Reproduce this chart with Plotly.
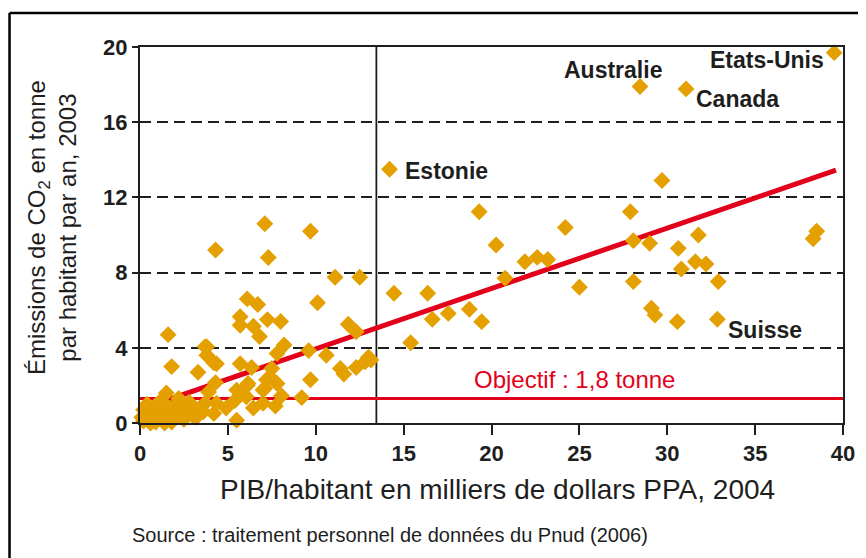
import plotly.graph_objects as go

# ---- data ----
gdp = [
    # named countries
    39.5, 28.45, 31.07, 14.2, 32.85,
    # rich / transition countries (x > 13.5)
    29.7, 19.3, 27.9, 24.2, 38.5, 38.3, 20.26, 31.77, 28.07, 29.0, 30.63,
    21.9, 22.6, 23.2, 31.6, 32.2, 30.8, 20.77, 28.07, 32.9, 25.0,
    14.45, 16.37, 17.54, 18.74, 16.63, 19.44, 29.1, 29.3, 30.57, 15.4,
    # developing countries (x < 13.5)
    13.14, 7.1, 9.7, 4.3, 7.3, 11.1, 12.5, 6.1, 6.7, 10.1, 5.7, 5.7, 6.45, 7.25, 8.0,
    6.8, 11.85, 12.3, 1.6, 3.8, 8.2, 7.8, 9.6, 10.6, 13.0, 12.8, 3.8, 4.35, 1.8,
    3.3, 5.7, 6.35, 7.5, 11.4, 11.6, 12.3, 9.7, 4.3, 3.9, 1.5, 5.5, 6.1, 7.2,
    7.8, 7.1, 8.05, 9.2, 7.0, 7.7, 6.45, 5.4, 4.35, 4.9, 4.2, 5.5, 3.4, 2.85,
    2.3, 1.8, 1.15, 0.55, 0.2, 1.35, 0.85, 0.2, 2.0, 2.55, 3.7, 7.4, 6.15,
    6.05, 7.0, 0.5, 1.0, 0.3, 0.7, 1.5, 2.0, 2.5, 3.0, 0.9, 1.2, 2.2, 2.8,
    0.4, 1.7, 3.2, 0.1, 0.6, 1.4, 2.6, 3.6, 3.7, 4.2,
]
co2 = [
    19.7, 17.9, 17.77, 13.5, 5.52,
    12.9, 11.24, 11.24, 10.4, 10.2, 9.8, 9.47, 10.0, 9.7, 9.56, 9.29,
    8.58, 8.81, 8.7, 8.58, 8.46, 8.19, 7.7, 7.52, 7.52, 7.22,
    6.9, 6.9, 5.83, 6.05, 5.52, 5.39, 6.1, 5.74, 5.39, 4.27,
    3.35, 10.6, 10.2, 9.2, 8.8, 7.75, 7.75, 6.6, 6.3, 6.4, 5.65, 5.2, 5.15, 5.5, 5.4,
    4.6, 5.25, 4.85, 4.7, 4.05, 4.15, 3.7, 3.85, 3.6, 3.5, 3.25, 3.6, 3.15, 3.0,
    2.7, 3.15, 2.95, 2.9, 2.9, 2.6, 2.95, 2.3, 2.15, 1.65, 1.6, 1.75, 2.0, 2.3,
    2.1, 1.85, 1.45, 1.35, 1.05, 0.9, 0.8, 1.2, 1.05, 0.8, 0.5, 0.15, 0.8, 0.7,
    0.5, 0.05, 0.7, 0.35, 0.1, 0.25, 0.9, 0.7, 0.95, 0.85, 1.05, 2.45, 2.1,
    1.4, 1.75, 0.1, 0.2, 0.4, 0.6, 0.4, 0.3, 0.2, 0.4, 0.05, 1.2, 1.3, 1.1,
    1.0, 0.8, 0.3, 0.3, 0.0, 0.0, 0.6, 0.6, 4.06, 3.2,
]

label_names = ["Etats-Unis", "Australie", "Canada", "Estonie", "Suisse"]

trend_x = [0.7, 39.6]      # regression line end points
trend_y = [0.95, 13.45]
objective_value = 1.3       # drawn height of the objective line
objective_text = "Objectif : 1,8 tonne"
mean_gdp = 13.45            # vertical separator

x_ticks = [0, 5, 10, 15, 20, 25, 30, 35, 40]
y_ticks = [0, 4, 8, 12, 16, 20]

x_title = "PIB/habitant en milliers de dollars PPA, 2004"
y_title = "Émissions de CO<sub>2</sub> en tonne<br>par habitant par an, 2003"
source_text = "Source : traitement personnel de données du Pnud (2006)"

# ---- figure ----
FONT = "Liberation Sans, Arial, sans-serif"
RED = "#E2001A"
GOLD = "#E4A000"
INK = "#1e1e1e"

fig = go.Figure()

fig.add_trace(go.Scatter(
    x=[0, 40], y=[objective_value, objective_value], mode="lines",
    line=dict(color=RED, width=3), hoverinfo="skip", showlegend=False))
fig.add_trace(go.Scatter(
    x=trend_x, y=trend_y, mode="lines",
    line=dict(color=RED, width=5), hoverinfo="skip", showlegend=False))
fig.add_trace(go.Scatter(
    x=gdp, y=co2, mode="markers",
    marker=dict(symbol="diamond", size=13, color=GOLD, line=dict(width=0)),
    cliponaxis=False, showlegend=False))

fig.add_shape(type="line", xref="x", yref="y", x0=mean_gdp, x1=mean_gdp, y0=0, y1=20,
              line=dict(color=INK, width=1.8), layer="below")

# outer frame (top and left edges visible)
fig.add_shape(type="line", xref="paper", yref="paper", x0=-0.1856, x1=1.08, y0=1.0904, y1=1.0904,
              line=dict(color="#000", width=2.5))
fig.add_shape(type="line", xref="paper", yref="paper", x0=-0.1856, x1=-0.1856, y0=1.0904, y1=-0.45,
              line=dict(color="#000", width=2.5))

ann_font = dict(family=FONT, size=23, color=INK)
fig.add_annotation(x=39.03, y=19.3, text="<b>%s</b>" % label_names[0], showarrow=False,
                   xanchor="right", yanchor="middle", font=ann_font)
fig.add_annotation(x=26.9, y=18.78, text="<b>%s</b>" % label_names[1], showarrow=False,
                   xanchor="center", yanchor="middle", font=ann_font)
fig.add_annotation(x=34.0, y=17.23, text="<b>%s</b>" % label_names[2], showarrow=False,
                   xanchor="center", yanchor="middle", font=ann_font)
fig.add_annotation(x=14.96, y=13.4, text="<b>%s</b>" % label_names[3], showarrow=False,
                   xanchor="left", yanchor="middle", font=ann_font)
fig.add_annotation(x=33.35, y=4.95, text="<b>%s</b>" % label_names[4], showarrow=False,
                   xanchor="left", yanchor="middle", font=ann_font)
fig.add_annotation(x=24.7, y=2.29, text=objective_text, showarrow=False,
                   xanchor="center", yanchor="middle",
                   font=dict(family=FONT, size=24, color=RED))

fig.add_annotation(xref="paper", yref="paper", x=0.508, y=-0.178, text=x_title,
                   showarrow=False, xanchor="center", yanchor="middle",
                   font=dict(family=FONT, size=28, color=INK))
fig.add_annotation(xref="paper", yref="paper", x=-0.125, y=0.519, text=y_title,
                   textangle=-90, showarrow=False, xanchor="center", yanchor="middle",
                   font=dict(family=FONT, size=24, color=INK))
fig.add_annotation(xref="paper", yref="paper", x=-0.0142, y=-0.298, text=source_text,
                   showarrow=False, xanchor="left", yanchor="middle",
                   font=dict(family=FONT, size=20, color=INK))

fig.update_xaxes(range=[0, 40], tickvals=x_ticks, ticktext=["<b>%d</b>" % v for v in x_ticks],
                 showgrid=False, zeroline=False, showline=True, mirror=True,
                 linecolor=INK, linewidth=2, ticks="outside", ticklen=10, tickwidth=2,
                 tickcolor=INK, tickfont=dict(family=FONT, size=22, color=INK),
                 fixedrange=True)
fig.update_yaxes(range=[0, 20], tickvals=y_ticks, ticktext=["<b>%d</b>" % v for v in y_ticks],
                 showgrid=True, gridcolor=INK, gridwidth=1.8, griddash="11px,6px",
                 zeroline=False, showline=True, mirror=True,
                 linecolor=INK, linewidth=2, ticks="outside", ticklen=6, tickwidth=2,
                 tickcolor=INK, tickfont=dict(family=FONT, size=22, color=INK),
                 fixedrange=True)

# the page adds an 8px body margin, so the margins are shifted by 8px
fig.update_layout(width=866, height=558, margin=dict(l=132, r=31, t=39, b=143),
                  paper_bgcolor="white", plot_bgcolor="white",
                  font=dict(family=FONT, color=INK))

fig.write_html("out.html")
